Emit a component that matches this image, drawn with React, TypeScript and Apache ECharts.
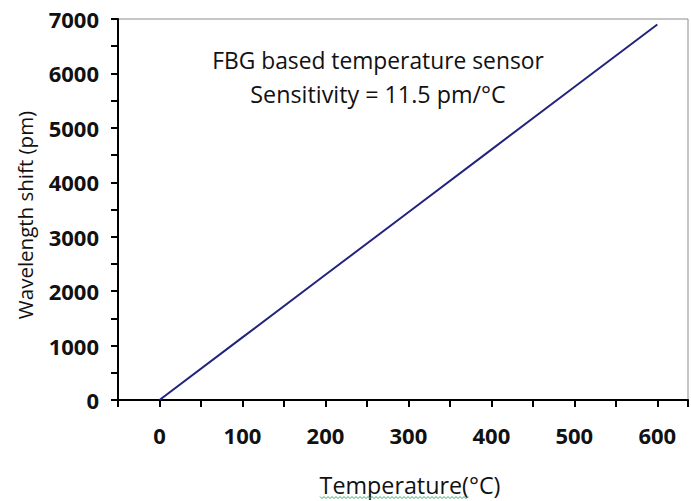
import React, { useEffect, useRef } from "react";
import * as echarts from "echarts";

const temperatures = [0, 100, 200, 300, 400, 500, 600];
const shifts = [0, 1150, 2300, 3450, 4600, 5750, 6900];
const titleLines = ["FBG based temperature sensor", "Sensitivity = 11.5 pm/°C"];
const xName = "Temperature(°C)";
const yName = "Wavelength shift (pm)";

export default function App() {
  const ref = useRef<HTMLDivElement>(null);
  useEffect(() => {
    document.body.style.margin = "0";
    const chart = echarts.init(ref.current!, undefined, { renderer: "svg" });
    const font = "'Open Sans', 'Liberation Sans', sans-serif";
    const squiggle: number[][] = [];
    for (let x = 320, k = 0; x <= 468; x += 2, k++) squiggle.push([x, k % 2 === 0 ? 496.5 : 498.5]);
    chart.setOption({
      animation: false,
      backgroundColor: "#ffffff",
      grid: {
        left: 118,
        top: 19,
        width: 573,
        height: 381,
        show: true,
        borderColor: "#8c8c8c",
        borderWidth: 1,
        backgroundColor: "transparent",
      },
      title: [
        {
          text: titleLines[0],
          left: 373,
          top: 44,
          textAlign: "center",
          textStyle: { fontFamily: font, fontSize: 22.8, fontWeight: "normal", color: "#111" },
        },
        {
          text: titleLines[1],
          left: 373,
          top: 77,
          textAlign: "center",
          textStyle: { fontFamily: font, fontSize: 23.3, fontWeight: "normal", color: "#111" },
        },
      ],
      graphic: [
        {
          type: "text",
          x: 25,
          y: 215,
          rotation: Math.PI / 2,
          style: {
            text: yName,
            fontFamily: font,
            fontSize: 20.5,
            fill: "#111",
            align: "center",
            verticalAlign: "middle",
          },
        },
        {
          type: "text",
          x: 410,
          y: 485,
          style: {
            text: xName,
            fontFamily: font,
            fontSize: 23.3,
            fill: "#111",
            align: "center",
            verticalAlign: "middle",
          },
        },
        {
          type: "polyline",
          shape: { points: squiggle },
          style: { stroke: "#3fae6a", lineWidth: 1, fill: "none" },
        },
      ],
      xAxis: {
        type: "value",
        min: -50,
        max: 637,
        interval: 50,
        axisLine: { show: true, onZero: false, lineStyle: { color: "#000", width: 2 } },
        axisTick: { show: true, length: 7, lineStyle: { color: "#000", width: 2 } },
        splitLine: { show: false },
        axisLabel: {
          margin: 24,
          fontFamily: font,
          fontSize: 22,
          fontWeight: "bold",
          color: "#111",
          formatter: (v: number) => (v >= 0 && v % 100 === 0 && v <= 600 ? String(v) : ""),
        },
      },
      yAxis: {
        type: "value",
        min: 0,
        max: 7000,
        interval: 500,
        axisLine: { show: true, onZero: false, lineStyle: { color: "#000", width: 2 } },
        axisTick: { show: true, length: 7, lineStyle: { color: "#000", width: 2 } },
        splitLine: { show: false },
        axisLabel: {
          margin: 19,
          fontFamily: font,
          fontSize: 22,
          fontWeight: "bold",
          color: "#111",
          formatter: (v: number) => (v % 1000 === 0 ? String(v) : ""),
        },
      },
      series: [
        {
          type: "line",
          data: temperatures.map((t, i) => [t, shifts[i]]),
          showSymbol: false,
          symbol: "none",
          lineStyle: { color: "#23237f", width: 2 },
        },
      ],
    });
    return () => chart.dispose();
  }, []);
  return <div ref={ref} style={{ width: 691, height: 501 }} />;
}
